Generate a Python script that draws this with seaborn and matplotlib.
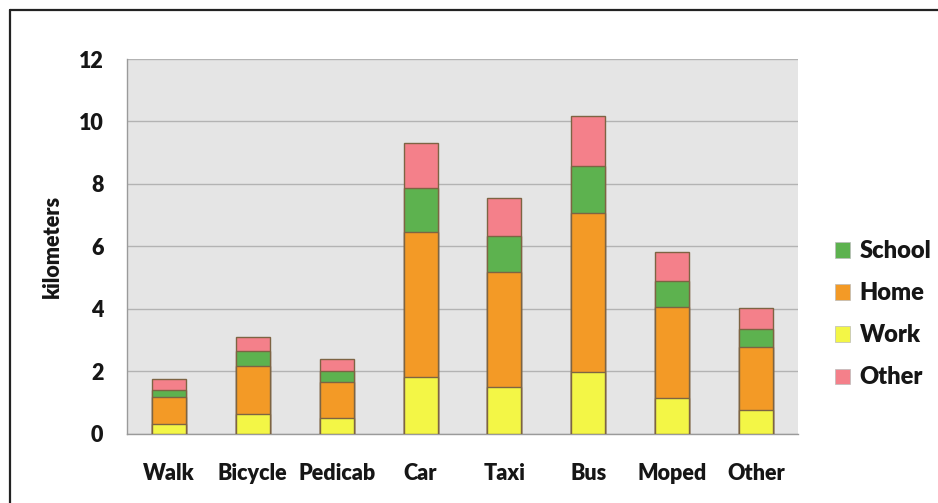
import matplotlib
matplotlib.use("Agg")
import matplotlib.pyplot as plt
from matplotlib.lines import Line2D
from matplotlib.patches import Patch
import numpy as np
import seaborn as sns

# Average trip distance by transport mode, split by trip purpose (km)
modes = ["Walk", "Bicycle", "Pedicab", "Car", "Taxi", "Bus", "Moped", "Other"]
work = [0.32, 0.64, 0.51, 1.83, 1.49, 1.97, 1.14, 0.77]
home = [0.85, 1.52, 1.14, 4.64, 3.70, 5.10, 2.91, 2.00]
school = [0.25, 0.48, 0.35, 1.41, 1.15, 1.51, 0.85, 0.60]
other = [0.35, 0.47, 0.41, 1.42, 1.20, 1.58, 0.93, 0.66]

y_ticks = [0, 2, 4, 6, 8, 10, 12]

colors = {
    "School": "#5db24f",
    "Home": "#f39a26",
    "Work": "#f3f646",
    "Other": "#f4808a",
}
edge = "#7d6443"
ink = "#161616"

sns.set_theme(style="white")
plt.rcParams["font.family"] = ["Lato", "DejaVu Sans"]
plt.rcParams["font.weight"] = "heavy"

fig = plt.figure(figsize=(9.38, 5.03), dpi=100)
ax = fig.add_axes([0.1354, 0.1372, 0.8507 - 0.1354, 0.8827 - 0.1372])
ax.set_facecolor("#e5e5e5")

# Stack segments: draw cumulative totals from the top layer down
w = np.array(work)
h = w + np.array(home)
s = h + np.array(school)
o = s + np.array(other)
layers = [(o, "Other"), (s, "School"), (h, "Home"), (w, "Work")]
for z, (vals, name) in enumerate(layers):
    sns.barplot(x=modes, y=list(vals), order=modes, color=colors[name],
                width=0.405, edgecolor=edge, linewidth=1.0, saturation=1,
                ax=ax, zorder=3 + z)

ax.set_ylim(0, 12)
ax.set_xlim(-0.5, len(modes) - 0.5)
ax.set_yticks(y_ticks)
ax.set_yticklabels([str(t) for t in y_ticks])
ax.yaxis.grid(True, color="#b3b3b3", linewidth=1.0)
ax.set_axisbelow(True)

# Category labels centred, tick marks on category boundaries
ax.set_xticks(range(len(modes)))
ax.set_xticklabels(modes)
ax.set_xticks(np.arange(-0.5, len(modes), 1.0), minor=True)
ax.tick_params(axis="x", which="major", length=0, pad=21, labelsize=15.5,
               labelcolor=ink)
ax.tick_params(axis="x", which="minor", length=6, width=1, color="#9a9a9a",
               direction="out")
ax.tick_params(axis="y", which="major", length=6, width=1, color="#9a9a9a",
               direction="out", pad=11, labelsize=15.5, labelcolor=ink)
for lab in ax.get_xticklabels() + ax.get_yticklabels():
    lab.set_fontweight("heavy")

ax.set_xlabel("")
ax.set_ylabel("kilometers", fontsize=15.5, fontweight="heavy", color=ink,
              labelpad=11)

for side in ("top", "right"):
    ax.spines[side].set_visible(False)
for side in ("left", "bottom"):
    ax.spines[side].set_color("#9a9a9a")
    ax.spines[side].set_linewidth(1.0)

handles = [Patch(facecolor=colors[n], edgecolor="#bbbbbb", linewidth=0.5)
           for n in ["School", "Home", "Work", "Other"]]
leg = fig.legend(handles, ["School", "Home", "Work", "Other"],
                 loc="center left", bbox_to_anchor=(0.868, 0.375),
                 frameon=False, handlelength=0.62, handleheight=0.62,
                 handletextpad=0.4, labelspacing=0.85,
                 prop={"family": "Lato", "weight": "heavy", "size": 17})
for t in leg.get_texts():
    t.set_color(ink)

# Frame line along the top and left of the canvas
fx = 10 / 938
fy = 1 - 10 / 503
fig.add_artist(Line2D([fx, 1.0], [fy, fy], transform=fig.transFigure,
                      color="#222222", linewidth=1.6))
fig.add_artist(Line2D([fx, fx], [0.0, fy], transform=fig.transFigure,
                      color="#222222", linewidth=1.6))

fig.savefig("out.png", dpi=100, facecolor="white")
